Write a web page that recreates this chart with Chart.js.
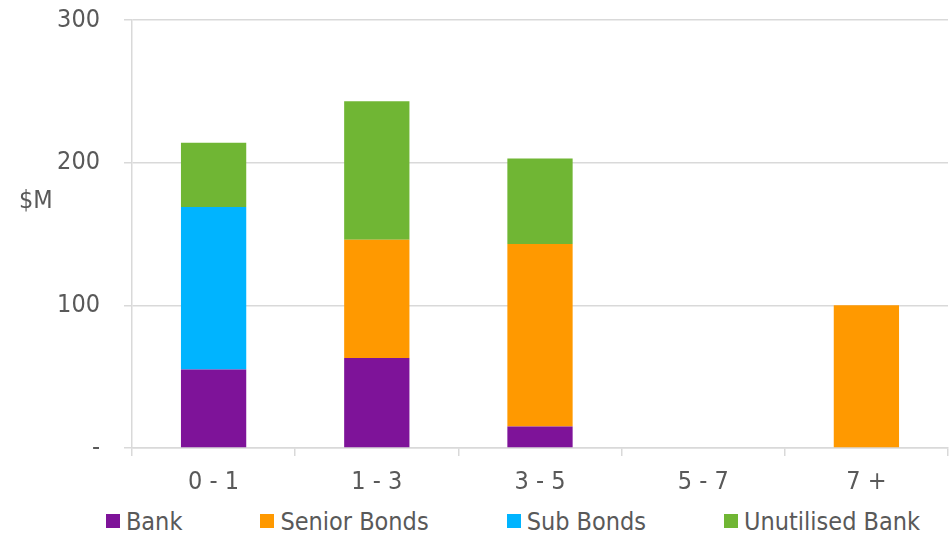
<!DOCTYPE html>
<html>
<head>
<meta charset="utf-8">
<script src="https://cdn.jsdelivr.net/npm/chart.js@4/dist/chart.umd.min.js"></script>
<style>
  html,body{margin:0;padding:0;background:#fff;}
  .wrap{position:relative;width:952px;height:535px;overflow:hidden;}
  .plot{position:absolute;left:0;top:0;width:952px;height:500px;}
  .legend{position:absolute;left:0;top:506px;width:952px;height:30px;box-sizing:border-box;padding-left:74px;
    display:flex;justify-content:center;align-items:center;gap:78px;
    font-family:"DejaVu Sans Condensed","DejaVu Sans",sans-serif;font-size:25px;color:#595959;}
  .legend span.item{display:flex;align-items:center;white-space:nowrap;}
  .legend i{display:inline-block;width:14px;height:14px;margin-right:6px;}
</style>
</head>
<body>
<div class="wrap">
  <div class="plot"><canvas id="maturity"></canvas></div>
  <div class="legend" id="legend"></div>
</div>
<script>
// maturity buckets (years) and facility amounts, $M
const buckets = ['0 - 1', '1 - 3', '3 - 5', '5 - 7', '7 +'];
const bank = [55, 63, 15, 0, 0];
const seniorBonds = [0, 83, 128, 0, 100];
const subBonds = [114, 0, 0, 0, 0];
const unutilisedBank = [45, 97, 60, 0, 0];
const yTicks = [0, 100, 200, 300];

const FONT = '"DejaVu Sans Condensed", "DejaVu Sans", sans-serif';
const TEXT = '#595959';
const GRID = '#d9d9d9';
const SIZE = 25;

const series = [
  {label:'Bank', data:bank, color:'#7e1399'},
  {label:'Senior Bonds', data:seniorBonds, color:'#ff9900'},
  {label:'Sub Bonds', data:subBonds, color:'#00b4ff'},
  {label:'Unutilised Bank', data:unutilisedBank, color:'#70b634'}
];

// horizontal "$M" unit label to the left of the value axis
const unitLabel = {
  id:'unitLabel',
  afterDraw(chart){
    const c = chart.ctx;
    c.save();
    c.font = SIZE + 'px ' + FONT;
    c.fillStyle = TEXT;
    c.textAlign = 'left';
    c.textBaseline = 'middle';
    c.fillText('$M', 19, 201);
    c.restore();
  }
};

new Chart(document.getElementById('maturity'), {
  type:'bar',
  data:{
    labels:buckets,
    datasets:series.map(s=>({
      label:s.label, data:s.data, backgroundColor:s.color,
      borderWidth:0, barPercentage:0.4, categoryPercentage:1
    }))
  },
  options:{
    responsive:true, maintainAspectRatio:false, animation:false,
    layout:{padding:{top:0, right:4, bottom:0, left:0}},
    plugins:{legend:{display:false}, tooltip:{enabled:false}},
    scales:{
      x:{
        stacked:true,
        grid:{offset:true, drawOnChartArea:false, drawTicks:true, tickLength:8, color:GRID, lineWidth:1.5},
        border:{display:true, color:GRID, width:1.5},
        ticks:{color:TEXT, font:{family:FONT, size:SIZE}, padding:11},
        afterFit(s){ s.height = 52; }
      },
      y:{
        stacked:true, min:0, max:300,
        afterBuildTicks(s){ s.ticks = yTicks.map(v=>({value:v})); },
        grid:{color:GRID, lineWidth:1.5, tickLength:8},
        border:{display:true, color:GRID, width:1.5},
        ticks:{color:TEXT, font:{family:FONT, size:SIZE}, padding:24,
          callback:(v)=> v === 0 ? '-' : v},
        afterFit(s){ s.width = 132; s.paddingTop = 20; }
      }
    }
  },
  plugins:[unitLabel]
});

// legend row under the chart
const legendEl = document.getElementById('legend');
series.forEach(s=>{
  const item = document.createElement('span');
  item.className = 'item';
  item.innerHTML = '<i style="background:' + s.color + '"></i>' + s.label;
  legendEl.appendChild(item);
});
</script>
</body>
</html>
